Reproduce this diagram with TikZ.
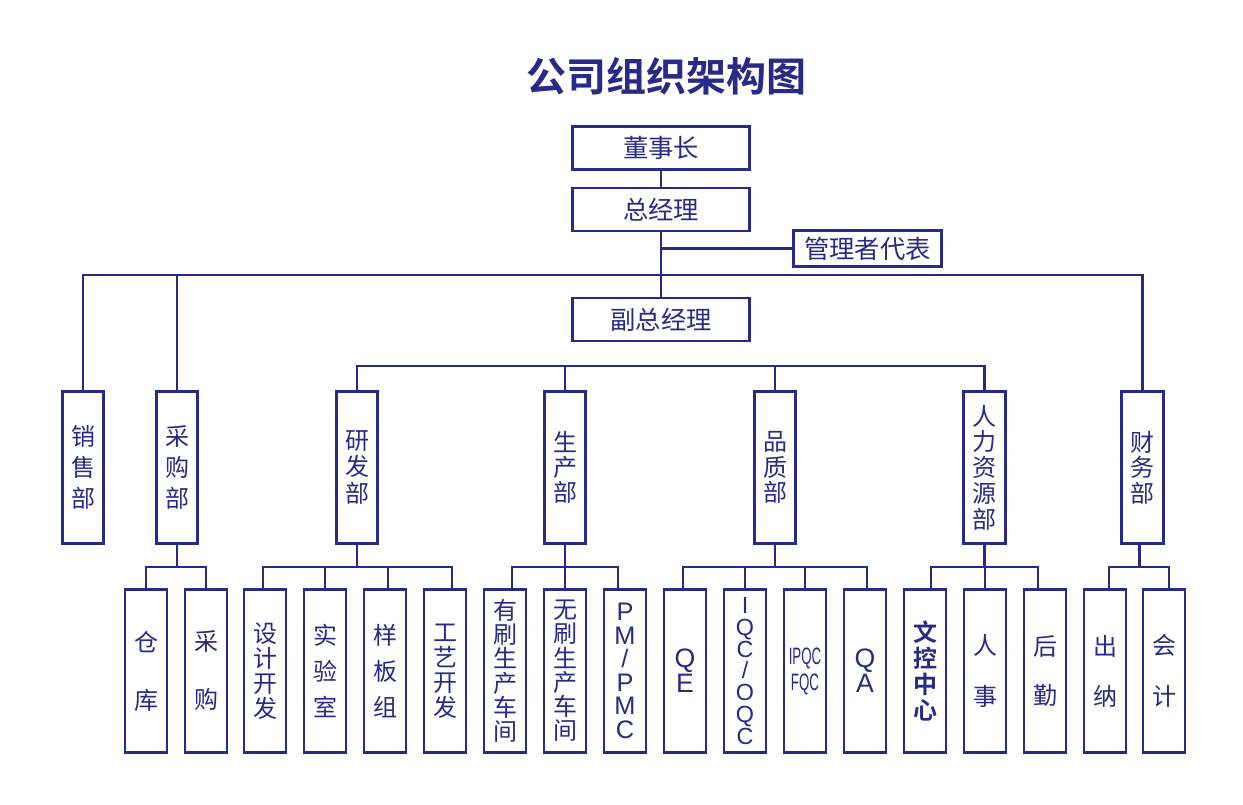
\documentclass[tikz,border=0pt]{standalone}
\usepackage{fontspec}
\usepackage{graphicx}
\setmainfont{Noto Sans CJK SC}[BoldFont={Noto Sans CJK SC Bold}]
\newfontfamily\arial{Liberation Sans}
\definecolor{navy}{RGB}{40,42,135}
\tikzset{
  box/.style={draw=navy, line width=2.2pt, inner sep=0pt, text=navy, align=center, fill=white},
  topbox/.style={box, minimum width=132.75pt, minimum height=32.25pt, font=\fontsize{19}{22}\selectfont},
  dept/.style={box, minimum width=31pt, minimum height=114pt},
  leaf/.style={box, minimum width=31.5pt, minimum height=122pt},
  link/.style={draw=navy, line width=2.2pt},
  vt/.style={font=\fontsize{18}{#1}\selectfont},
  vtl/.style={font=\fontsize{18}{#1}\selectfont},
}
\begin{document}
\begin{tikzpicture}[x=0.75pt,y=-0.75pt]
\useasboundingbox[fill=white] (0,0) rectangle (1243,805);
% title
\node[text=navy, font=\fontsize{30}{36}\selectfont\bfseries] (title) at (666,76) {公司组织架构图};
% bar levels
\coordinate (b1) at (661,275);
\coordinate (b2) at (661,366);
\coordinate (b3) at (661,567);
% top boxes
\node[topbox] (dsz) at (661,148) {董事长};
\node[topbox] (zjl) at (661,209.5) {总经理};
\node[topbox] (fzjl) at (661,319.5) {副总经理};
\node[box, minimum width=111pt, minimum height=27pt, font=\fontsize{19}{22}\selectfont] (dbr) at (867.5,248.5) {管理者代表};
% departments
\node[dept, vt=23] (xs) at (83,467.5) {销\\售\\部};
\node[dept, vt=23] (cgb) at (177,467.5) {采\\购\\部};
\node[dept, vt=20] (yf) at (357,467.5) {研\\发\\部};
\node[dept, vt=19] (sc) at (565,467.5) {生\\产\\部};
\node[dept, vt=19] (pz) at (775,467.5) {品\\质\\部};
\node[dept, vt=19.3] (rl) at (984.5,467.5) {人\\力\\资\\源\\部};
\node[dept, vt=19.2] (cw) at (1142.5,467.5) {财\\务\\部};
% leaves
\node[leaf, vtl=43.5] (ck) at (146,671) {仓\\库};
\node[leaf, vtl=43.5] (cg) at (206,671) {采\\购};
\node[leaf, vtl=18.6] (sj) at (265,671) {设\\计\\开\\发};
\node[leaf, vtl=27] (sy) at (325,671) {实\\验\\室};
\node[leaf, vtl=27] (yb) at (385,671) {样\\板\\组};
\node[leaf, vtl=18.8] (gy) at (445,671) {工\\艺\\开\\发};
\node[leaf, vtl=18.2] (yc) at (505,671) {有\\刷\\生\\产\\车\\间};
\node[leaf, vtl=18.2] (wc) at (565,671) {无\\刷\\生\\产\\车\\间};
\node[leaf, font=\arial\fontsize{19}{17.6}\selectfont] (pm) at (625,671) {P\\M\\/\\P\\M\\C};
\node[leaf, font=\arial\fontsize{20}{18.75}\selectfont] (qe) at (685,671) {Q\\E};
\node[leaf, font=\arial\fontsize{17.5}{16.4}\selectfont] (iqc) at (745,671) {I\\Q\\C\\/\\O\\Q\\C};
\node[leaf, font=\arial\fontsize{17.8}{19.5}\selectfont] (ipqc) at (805,671) {\scalebox{0.56}[1]{IPQC}\\\scalebox{0.56}[1]{FQC}};
\node[leaf, font=\arial\fontsize{20}{18.75}\selectfont] (qa) at (865,671) {Q\\A};
\node[leaf, font=\bfseries\fontsize{18}{19.3}\selectfont] (wk) at (925,671) {文\\控\\中\\心};
\node[leaf, vtl=38] (rs) at (985,671) {人\\事};
\node[leaf, vtl=37] (hq) at (1045,671) {后\\勤};
\node[leaf, vtl=37.5] (cn) at (1105,671) {出\\纳};
\node[leaf, vtl=38] (kj) at (1164,671) {会\\计};
% top connectors
\draw[link] (dsz.south) -- (zjl.north);
\draw[link] (zjl.south) -- (fzjl.north);
\draw[link] (zjl.south |- dbr.west) -- (dbr.west);
\draw[link] (xs.north) |- (b1) -| (cw.north);
\draw[link] (cgb.north) -- (cgb.north |- b1);
% level 2
\draw[link] (yf.north) |- (b2) -| (rl.north);
\draw[link] (sc.north) -- (sc.north |- b2);
\draw[link] (pz.north) -- (pz.north |- b2);
% purchasing bracket
\draw[link] (cgb.south) -- (cgb.south |- b3);
\draw[link] (ck.north) |- (cgb.south |- b3) -| (cg.north);
% R&D bracket
\draw[link] (yf.south) -- (yf.south |- b3);
\draw[link] ([xshift=-1.5pt]sj.north) |- (yf.south |- b3) -| ([xshift=5.25pt]gy.north);
\draw[link] (sy.north) -- (sy.north |- b3);
\draw[link] ([xshift=2.25pt]yb.north) -- ([xshift=2.25pt]yb.north |- b3);
% production bracket
\draw[link] (sc.south) -- (sc.south |- b3);
\draw[link] ([xshift=5.25pt]yc.north) |- (sc.south |- b3) -| ([xshift=-5.25pt]pm.north);
\draw[link] (wc.north) -- (wc.north |- b3);
% quality bracket
\draw[link] (pz.south) -- (pz.south |- b3);
\draw[link] ([xshift=-1.5pt]qe.north) |- (pz.south |- b3) -| ([xshift=1.5pt]qa.north);
\draw[link] (iqc.north) -- (iqc.north |- b3);
\draw[link] (ipqc.north) -- (ipqc.north |- b3);
% HR bracket
\draw[link] (rl.south) -- (rl.south |- b3);
\draw[link] ([xshift=4.5pt]wk.north) |- (rl.south |- b3) -| ([xshift=-5.25pt]hq.north);
\draw[link] (rs.north) -- (rs.north |- b3);
% finance bracket
\draw[link] ([xshift=-2.6pt]cw.south) -- ([xshift=-2.6pt]cw.south |- b3);
\draw[link] ([xshift=3pt]cn.north) |- ([xshift=-2.6pt]cw.south |- b3) -| ([xshift=3.75pt]kj.north);
\end{tikzpicture}
\end{document}
